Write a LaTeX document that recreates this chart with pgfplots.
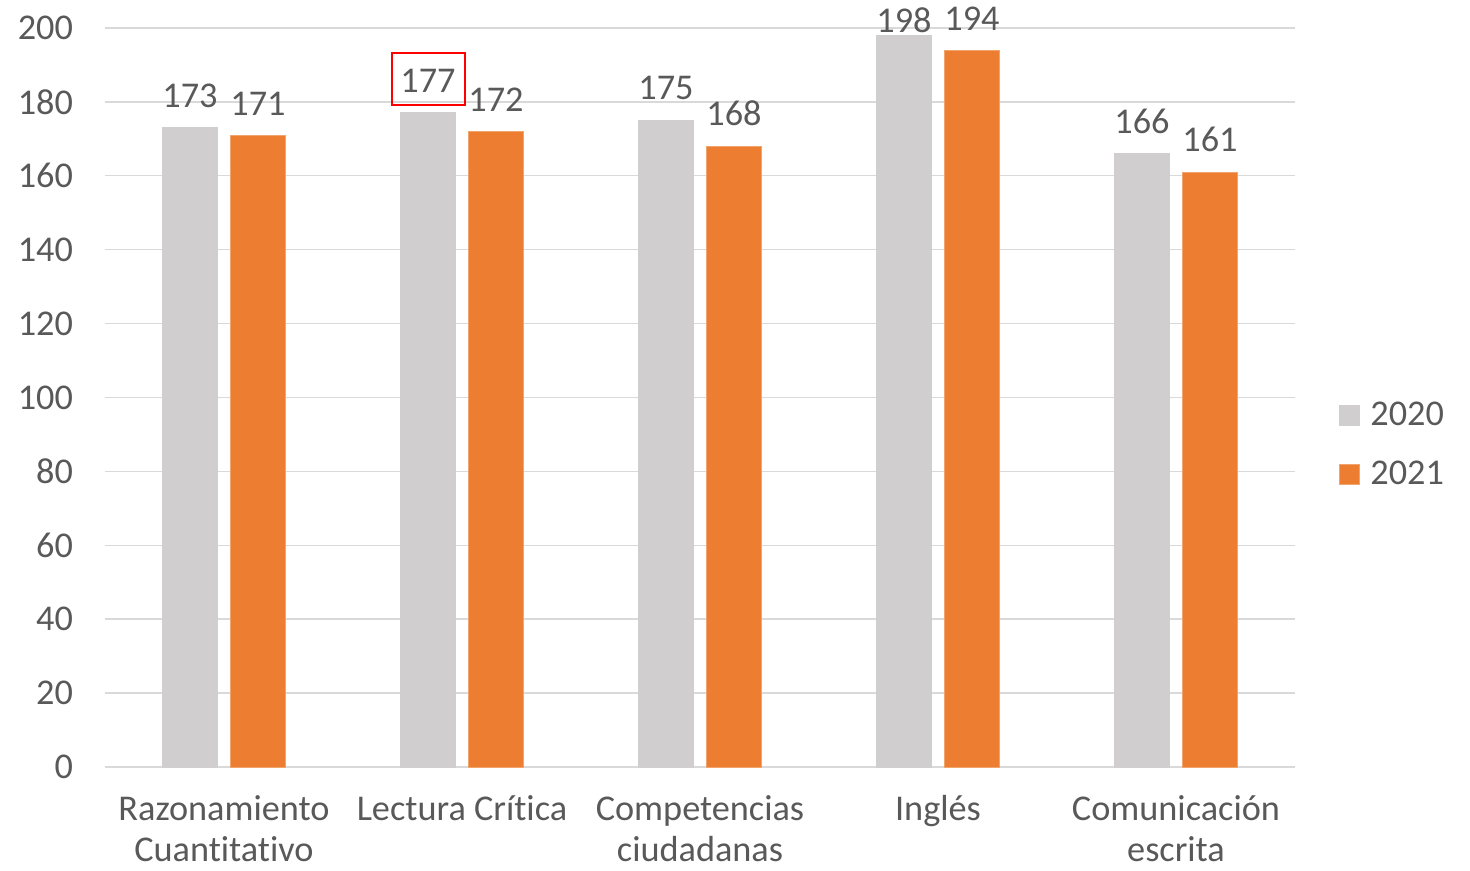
\documentclass[border=0pt]{standalone}
\usepackage{pgfplots}
\usepackage{pgfplotstable}
\pgfplotsset{compat=1.18}
\usepackage{fontspec}
\setmainfont{Carlito}[Ligatures=NoCommon]
\definecolor{txt}{HTML}{595959}
\definecolor{grayb}{HTML}{D0CECE}
\definecolor{orangeb}{HTML}{ED7D31}
\definecolor{orangel}{HTML}{F2A46F}
\definecolor{gridc}{HTML}{D9D9D9}
\pgfplotstableread{
x y dy
0 173 0
1 177 0
2 175 0
3 198 -9
4 166 0
}\tblA
\pgfplotstableread{
x y dy
0 171 0
1 172 0
2 168 0
3 194 0
4 161 0
}\tblB
\begin{document}
\begin{tikzpicture}
\begin{axis}[
  scale only axis,
  width=595bp, height=369.5bp,
  ybar=6.5bp, bar width=27.5bp,
  xmin=-0.5, xmax=4.5, ymin=0, ymax=200,
  ytick={0,20,...,200},
  xtick={0,1,2,3,4},
  xticklabels={{Razonamiento\\Cuantitativo},{Lectura Crítica},{Competencias\\ciudadanas},{Inglés},{Comunicación\\escrita}},
  font=\fontsize{18.2}{20.6}\selectfont,
  xticklabel style={align=center, text=txt, inner ysep=0bp, yshift=-14bp},
  yticklabel style={text=txt, xshift=-12.5bp},
  /pgf/number format/assume math mode=true,
  ymajorgrids, grid style={gridc, line width=0.7bp},
  axis x line*=bottom, axis y line*=left,
  x axis line style={gridc, line width=0.7bp, -},
  y axis line style={draw=none},
  major tick length=0pt,
  tick style={draw=none},
  nodes near coords,
  visualization depends on={\thisrow{dy} \as \dy},
  every node near coord/.append style={text=txt, yshift=6.5bp+\dy bp, font=\fontsize{18.2}{21.5}\selectfont},
  legend style={at={(1,0.436)}, anchor=west, xshift=19bp, draw=none, fill=none,
    text=txt, row sep=12.5bp, font=\fontsize{18.2}{21.5}\selectfont,
    nodes={inner xsep=5bp}},
  legend cell align=left,
  legend image code/.code={\fill[#1] (0bp,-5bp) rectangle (10bp,5bp);},
  clip=false,
]
\addplot[fill=grayb, draw=grayb, line width=0.5bp] table[x=x,y=y] {\tblA};
\addplot[fill=orangeb, draw=orangel, line width=0.5bp] table[x=x,y=y] {\tblB};
\legend{2020,2021}
\draw[red, line width=1bp] (axis cs:0.707,179.1) rectangle (axis cs:1.0105,193.2);
\coordinate (ll) at (rel axis cs:0,0);
\coordinate (ur) at (rel axis cs:1,1);
\end{axis}
\pgfresetboundingbox
\path[use as bounding box] ([xshift=-52.5bp,yshift=-52bp]ll) rectangle ([xshift=87.5bp,yshift=14bp]ur);
\end{tikzpicture}
\end{document}
